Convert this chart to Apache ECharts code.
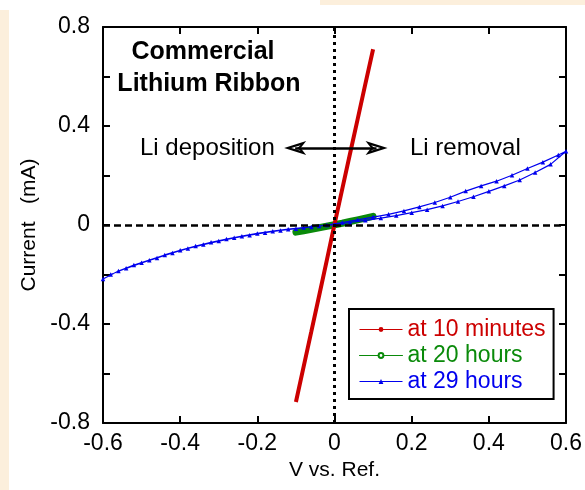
<!DOCTYPE html>
<html><head><meta charset="utf-8">
<script src="https://cdn.jsdelivr.net/npm/echarts@6/dist/echarts.min.js"></script>
<style>html,body{margin:0;padding:0;background:#fff}#c{width:585px;height:490px}</style>
</head><body><div id="c"></div>
<script>
// ---- data ----
const xTicks = [-0.6, -0.4, -0.2, 0, 0.2, 0.4, 0.6];
const yTickLabels = [-0.8, -0.4, 0, 0.4, 0.8];
const seriesNames = ['at 10 minutes', 'at 20 hours', 'at 29 hours'];

const redV = [-0.10, -0.08, -0.06, -0.04, -0.02, 0, 0.02, 0.04, 0.06, 0.08, 0.10];
const redI = [-0.715, -0.572, -0.430, -0.287, -0.143, 0.003, 0.145, 0.287, 0.428, 0.570, 0.710];

const greenV = [-0.10, -0.08, -0.06, -0.04, -0.02, 0, 0.02, 0.04, 0.06, 0.08, 0.10];
const greenI = [-0.029, -0.023, -0.017, -0.011, -0.005, 0.001, 0.007, 0.014, 0.021, 0.028, 0.035];

const blueV = [
  -0.60, -0.56, -0.52, -0.48, -0.44, -0.40, -0.36, -0.32, -0.28, -0.24, -0.20, -0.16, -0.12, -0.08, -0.04,
  0.00, 0.04, 0.08, 0.12, 0.16, 0.20, 0.24, 0.28, 0.32, 0.36, 0.40, 0.44, 0.48, 0.52, 0.56, 0.60,
  0.58, 0.54, 0.50, 0.46, 0.42, 0.38, 0.34, 0.30, 0.26, 0.22, 0.18, 0.14, 0.10, 0.06, 0.02,
  -0.02, -0.06, -0.10, -0.14, -0.18, -0.22, -0.26, -0.30, -0.34, -0.38, -0.42, -0.46, -0.50, -0.54, -0.58
];
const blueI = [
  -0.218, -0.186, -0.162, -0.142, -0.121, -0.102, -0.085, -0.070, -0.057, -0.045, -0.034, -0.025, -0.017, -0.010, -0.004,
  0.001, 0.010, 0.019, 0.028, 0.038, 0.050, 0.062, 0.077, 0.095, 0.114, 0.136, 0.158, 0.182, 0.212, 0.245, 0.298,
  0.283, 0.254, 0.228, 0.201, 0.177, 0.158, 0.137, 0.112, 0.091, 0.073, 0.057, 0.043, 0.032, 0.021, 0.010,
  0.000, -0.008, -0.015, -0.022, -0.031, -0.041, -0.052, -0.065, -0.079, -0.095, -0.113, -0.133, -0.153, -0.175, -0.200
];

// annotation arrow (symbol centres, in data units)
const annoArrowV = [-0.102, 0.109];
const annoArrowI = 0.311;

// ---- build ----
const zip = (a, b) => a.map((v, i) => [v, b[i]]);
const FONT = 'Liberation Sans, Arial, Helvetica, sans-serif';
const RED = '#cc0000', GREEN = '#0a8a0a', BLUE = '#0000ee';
const fmt = v => {
  const r = Math.round(v * 10) / 10;
  return yTickLabels.some(t => Math.abs(t - r) < 1e-9) && Math.abs(r - v) < 1e-6 ? String(r) : '';
};
const arrowPath = 'path://M0,0 L10,20 L0,15 L-10,20 Z M0,6.5 L-4,15 L0,11.8 L4,15 Z';

const axisCommon = {
  axisLine: { show: true, onZero: false, lineStyle: { color: '#000', width: 2 } },
  axisTick: { show: true, inside: true, length: 7, lineStyle: { color: '#000', width: 2 } },
  splitLine: { show: false }
};

const chart = echarts.init(document.getElementById('c'), null, { renderer: 'canvas' });
chart.setOption({
  backgroundColor: '#fff',
  animation: false,
  textStyle: { fontFamily: FONT },
  grid: { left: 103, right: 13, top: 27, bottom: 67 },
  xAxis: [
    Object.assign({}, axisCommon, {
      type: 'value', min: xTicks[0], max: xTicks[xTicks.length - 1], interval: 0.2, position: 'bottom',
      name: 'V vs. Ref.', nameLocation: 'middle', nameGap: 32,
      nameTextStyle: { fontSize: 21, color: '#000', fontFamily: FONT },
      axisLabel: { show: true, margin: 9, fontSize: 23, color: '#000', fontFamily: FONT,
        formatter: v => String(Math.round(v * 10) / 10) }
    }),
    Object.assign({}, axisCommon, {
      type: 'value', min: xTicks[0], max: xTicks[xTicks.length - 1], interval: 0.2, position: 'top',
      axisLabel: { show: false }
    })
  ],
  yAxis: [
    Object.assign({}, axisCommon, {
      type: 'value', min: -0.8, max: 0.8, interval: 0.2, position: 'left',
      name: 'Current   (mA)', nameLocation: 'middle', nameGap: 62, nameRotate: 90,
      nameTextStyle: { fontSize: 21, color: '#000', fontFamily: FONT },
      axisLabel: { show: true, margin: 13, fontSize: 23, color: '#000', fontFamily: FONT, formatter: fmt }
    }),
    Object.assign({}, axisCommon, {
      type: 'value', min: -0.8, max: 0.8, interval: 0.2, position: 'right',
      axisLabel: { show: false }
    })
  ],
  legend: {
    show: true, orient: 'vertical', left: 349, top: 309,
    borderColor: '#000', borderWidth: 2, backgroundColor: '#fff',
    padding: [9, 8, 6, 10], itemWidth: 43, itemHeight: 6, itemGap: 3,
    lineStyle: { width: 1 },
    textStyle: { fontSize: 23, lineHeight: 23, fontFamily: FONT },
    data: [
      { name: seriesNames[0], textStyle: { color: RED } },
      { name: seriesNames[1], textStyle: { color: GREEN } },
      { name: seriesNames[2], textStyle: { color: BLUE } }
    ]
  },
  series: [
    {
      name: seriesNames[1], type: 'line', data: zip(greenV, greenI),
      color: GREEN, symbol: 'emptyCircle', showSymbol: false, symbolSize: 5,
      lineStyle: { width: 7, color: GREEN, cap: 'round' },
      markLine: {
        silent: true, symbol: 'none', label: { show: false }, animation: false,
        data: [
          { yAxis: 0, lineStyle: { color: '#000', width: 2.5, type: [7, 4] } },
          { xAxis: 0, lineStyle: { color: '#000', width: 3, type: [3, 4] } }
        ]
      }
    },
    {
      name: seriesNames[0], type: 'line', data: zip(redV, redI),
      color: RED, symbol: 'circle', showSymbol: false, symbolSize: 3,
      lineStyle: { width: 4, color: RED }
    },
    {
      name: seriesNames[2], type: 'line', data: zip(blueV, blueI),
      color: BLUE, symbol: 'triangle', showSymbol: true, symbolSize: 4.5,
      itemStyle: { color: BLUE },
      lineStyle: { width: 1.2, color: BLUE },
      markLine: {
        silent: true, symbol: [arrowPath, arrowPath], symbolSize: [14, 22], label: { show: false },
        lineStyle: { color: '#000', width: 2.5, type: 'solid' },
        data: [[{ coord: [annoArrowV[0], annoArrowI] }, { coord: [annoArrowV[1], annoArrowI] }]]
      }
    }
  ],
  graphic: [
    { type: 'rect', shape: { x: 0, y: 10, width: 9, height: 480 }, style: { fill: '#fcefdc' }, silent: true },
    { type: 'rect', shape: { x: 320, y: 0, width: 265, height: 5 }, style: { fill: '#fcefdc' }, silent: true },
    { type: 'text', x: 203, y: 52, style: { text: 'Commercial', font: 'bold 25px ' + FONT, fill: '#000', textAlign: 'center', textVerticalAlign: 'middle' } },
    { type: 'text', x: 209, y: 84, style: { text: 'Lithium Ribbon', font: 'bold 25px ' + FONT, fill: '#000', textAlign: 'center', textVerticalAlign: 'middle' } },
    { type: 'text', x: 140, y: 148, style: { text: 'Li deposition', font: '24px ' + FONT, fill: '#000', textAlign: 'left', textVerticalAlign: 'middle' } },
    { type: 'text', x: 410, y: 148, style: { text: 'Li removal', font: '24px ' + FONT, fill: '#000', textAlign: 'left', textVerticalAlign: 'middle' } }
  ]
});
</script>
</body></html>
